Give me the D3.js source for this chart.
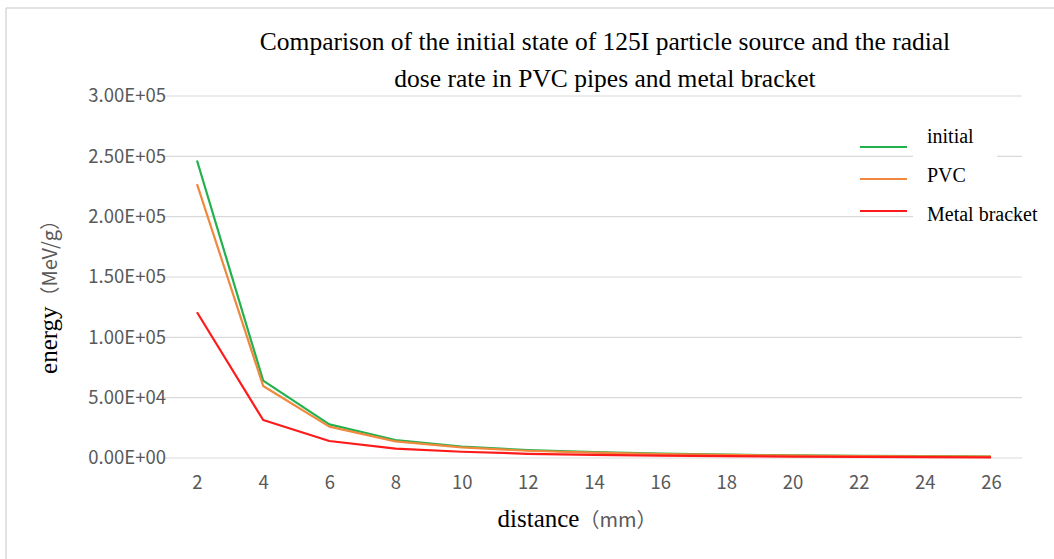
<html>
<head>
<script src="https://d3js.org/d3.v7.min.js"></script>
<style>
  body { margin: 0; background: #fff; }
  .tick text { font-family: "Noto Sans CJK SC", "DejaVu Sans", sans-serif; font-size: 18.5px; fill: #595959; }
</style>
</head>
<body>
<div id="chart"></div>
<script>
// distances (mm)
var distances = ["2","4","6","8","10","12","14","16","18","20","22","24","26"];
// energy (MeV/g)
var initial = [246500, 64100, 27900, 14900, 9400, 6500, 4800, 3600, 2800, 2200, 1800, 1500, 1200];
var pvc     = [227000, 59700, 26000, 13800, 8800, 6000, 4400, 3300, 2600, 2000, 1600, 1300, 1100];
var metal   = [120800, 31500, 14100, 7700, 5200, 3500, 2600, 2000, 1500, 1200, 1000, 800, 600];
var yTicks  = [0, 50000, 100000, 150000, 200000, 250000, 300000];
var seriesNames = ["initial", "PVC", "Metal bracket"];
var colors = ["#22b14c", "#f0883e", "#ff1a1a"];

var W = 1054, H = 559;
var svg = d3.select("#chart").append("svg").attr("width", W).attr("height", H);

// outer border (top & left only, rest cropped)
svg.append("line").attr("x1", 6).attr("x2", W).attr("y1", 8).attr("y2", 8)
  .attr("stroke", "#d9d9d9").attr("stroke-width", 1.5);
svg.append("line").attr("x1", 6).attr("x2", 6).attr("y1", 8).attr("y2", H)
  .attr("stroke", "#d9d9d9").attr("stroke-width", 1.5);

var x = d3.scalePoint().domain(distances).range([197, 991]);
var y = d3.scaleLinear().domain([0, 300000]).range([458, 96]);

// gridlines
svg.append("g").selectAll("line").data(yTicks).enter().append("line")
  .attr("x1", 163).attr("x2", 1022)
  .attr("y1", function(d){ return y(d); }).attr("y2", function(d){ return y(d); })
  .attr("stroke", "#d9d9d9").attr("stroke-width", 1.2);

// y axis labels
var yAxis = svg.append("g").attr("transform", "translate(166,0)")
  .call(d3.axisLeft(y).tickValues(yTicks).tickSize(0).tickPadding(0)
    .tickFormat(function(d){ return d.toExponential(2).toUpperCase().replace(/E\+(\d)$/, "E+0$1"); }));
yAxis.select(".domain").remove();

// x axis labels
var xAxis = svg.append("g").attr("transform", "translate(0,458)")
  .call(d3.axisBottom(x).tickSize(0).tickPadding(18));
xAxis.select(".domain").remove();

// lines
var line = d3.line()
  .x(function(d, i){ return x(distances[i]); })
  .y(function(d){ return y(d); });
[initial, pvc, metal].forEach(function(s, i) {
  svg.append("path").datum(s).attr("d", line)
    .attr("fill", "none").attr("stroke", colors[i]).attr("stroke-width", 2.2)
    .attr("stroke-linejoin", "round");
});

// title
var title = svg.append("text").attr("text-anchor", "middle")
  .attr("font-family", "Liberation Serif, serif").attr("font-size", 25.5).attr("fill", "#000");
title.append("tspan").attr("x", 605).attr("y", 50)
  .text("Comparison of the initial state of 125I particle source and the radial");
title.append("tspan").attr("x", 605).attr("y", 87)
  .text("dose rate in PVC pipes and metal bracket");

// legend
var legend = svg.append("g");
legend.append("rect").attr("x", 913).attr("y", 120).attr("width", 84).attr("height", 110).attr("fill", "#fff");
var legendLineY = [147, 179, 211], legendTextY = [143, 182, 221];
seriesNames.forEach(function(n, i) {
  legend.append("line").attr("x1", 860).attr("x2", 907).attr("y1", legendLineY[i]).attr("y2", legendLineY[i])
    .attr("stroke", colors[i]).attr("stroke-width", 2.2);
  legend.append("text").attr("x", 927).attr("y", legendTextY[i])
    .attr("font-family", "Liberation Serif, serif").attr("font-size", 20).attr("fill", "#000")
    .text(n);
});

// axis titles
var xt = svg.append("text").attr("x", 577).attr("y", 527).attr("text-anchor", "middle");
xt.append("tspan").attr("font-family", "Liberation Serif, serif").attr("font-size", 25).attr("fill", "#000").text("distance");
xt.append("tspan").attr("font-family", "Noto Sans CJK SC, sans-serif").attr("font-size", 20).attr("fill", "#595959").text("（mm）");

var yt = svg.append("text").attr("transform", "translate(57,292) rotate(-90)").attr("text-anchor", "middle");
yt.append("tspan").attr("font-family", "Liberation Serif, serif").attr("font-size", 25).attr("fill", "#000").text("energy");
yt.append("tspan").attr("font-family", "Noto Sans CJK SC, sans-serif").attr("font-size", 20).attr("fill", "#595959").text("（MeV/g）");
</script>
</body>
</html>
